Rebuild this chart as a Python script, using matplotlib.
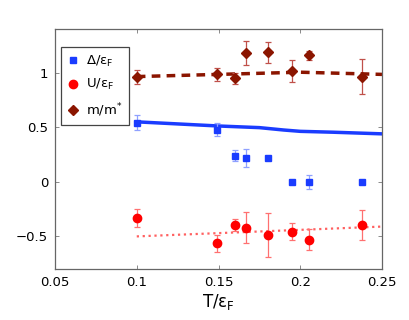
import matplotlib
matplotlib.use("Agg")
import matplotlib.pyplot as plt

# Data
t_pts = [0.1, 0.149, 0.160, 0.1667, 0.1805, 0.195, 0.2053, 0.238]
delta = [0.544, 0.477, 0.238, 0.217, 0.217, 0.0, 0.0, 0.0]
delta_err = [0.065, 0.06, 0.05, 0.08, 0.0, 0.0, 0.065, 0.0]
u_vals = [-0.333, -0.563, -0.40, -0.42, -0.486, -0.456, -0.529, -0.394]
u_err = [0.085, 0.08, 0.055, 0.145, 0.2, 0.08, 0.095, 0.14]
mass = [0.96, 0.988, 0.95, 1.18, 1.186, 1.015, 1.16, 0.963]
mass_err = [0.065, 0.06, 0.05, 0.11, 0.1, 0.1, 0.04, 0.16]

t_line_delta = [0.1, 0.15, 0.175, 0.19, 0.2, 0.22, 0.25]
delta_line = [0.55, 0.512, 0.497, 0.475, 0.463, 0.455, 0.44]
t_line_u = [0.1, 0.25]
u_line = [-0.50, -0.41]
t_line_m = [0.1, 0.15, 0.2, 0.25]
m_line = [0.965, 0.985, 1.005, 0.985]

xticks = [0.05, 0.1, 0.15, 0.2, 0.25]
yticks = [-0.5, 0, 0.5, 1]
ytick_labels = ['\u22120.5', '0', '0.5', '1']

blue = '#1a3cff'
red = '#ff0000'
dred = '#8b1500'

fig = plt.figure(figsize=(4.09, 3.2), dpi=100)
ax = fig.add_axes([0.1345, 0.159, 0.7995, 0.75])

# lines
ax.plot(t_line_delta, delta_line, '-', color=blue, lw=2.5, zorder=2)
ax.plot(t_line_m, m_line, '--', color=dred, lw=2.5, dashes=(2.5, 1.8), zorder=2)
ax.plot(t_line_u, u_line, ':', color='#ff6060', lw=1.6, zorder=2)

# error bars
ax.errorbar(t_pts, delta, yerr=delta_err, fmt='none', ecolor='#8fa0ff', elinewidth=0.9, capsize=2.5, capthick=0.9, zorder=3)
ax.errorbar(t_pts, u_vals, yerr=u_err, fmt='none', ecolor='#ff7070', elinewidth=0.9, capsize=2.5, capthick=0.9, zorder=3)
ax.errorbar(t_pts, mass, yerr=mass_err, fmt='none', ecolor='#c0504a', elinewidth=0.9, capsize=2.5, capthick=0.9, zorder=3)

# markers
h1, = ax.plot(t_pts, delta, 's', color=blue, ms=5, ls='none', zorder=4, label='\u0394/\u03b5$_\\mathregular{F}$')
h2, = ax.plot(t_pts, u_vals, 'o', color=red, ms=6, ls='none', zorder=4, label='U/\u03b5$_\\mathregular{F}$')
h3, = ax.plot(t_pts, mass, 'D', color=dred, ms=5, ls='none', zorder=4, label='m/m$^\\mathregular{*}$')

ax.set_xlim(0.05, 0.25)
ax.set_ylim(-0.8, 1.4)
ax.set_xticks(xticks)
ax.set_xticklabels(['0.05', '0.1', '0.15', '0.2', '0.25'])
ax.set_yticks(yticks)
ax.set_yticklabels(ytick_labels)
ax.tick_params(direction='in', top=True, right=True, length=3, width=0.6, color='#777777', labelsize=9.5, pad=5)
for s in ax.spines.values():
    s.set_color('#666666')
    s.set_linewidth(0.9)

ax.set_xlabel('T/\u03b5$_\\mathregular{F}$', fontsize=12, labelpad=2)

leg = fig.legend(handles=[h1, h2, h3], loc='upper left', bbox_to_anchor=(61/409, 1 - 47/320),
                 bbox_transform=fig.transFigure, borderaxespad=0,
                 fontsize=9.5, frameon=True, fancybox=False, edgecolor='#444444', framealpha=1,
                 handlelength=0.8, handletextpad=0.6, labelspacing=0.65, borderpad=0.5,
                 markerscale=1.0)
leg.get_frame().set_linewidth(0.9)

fig.savefig('out.png', dpi=100)
